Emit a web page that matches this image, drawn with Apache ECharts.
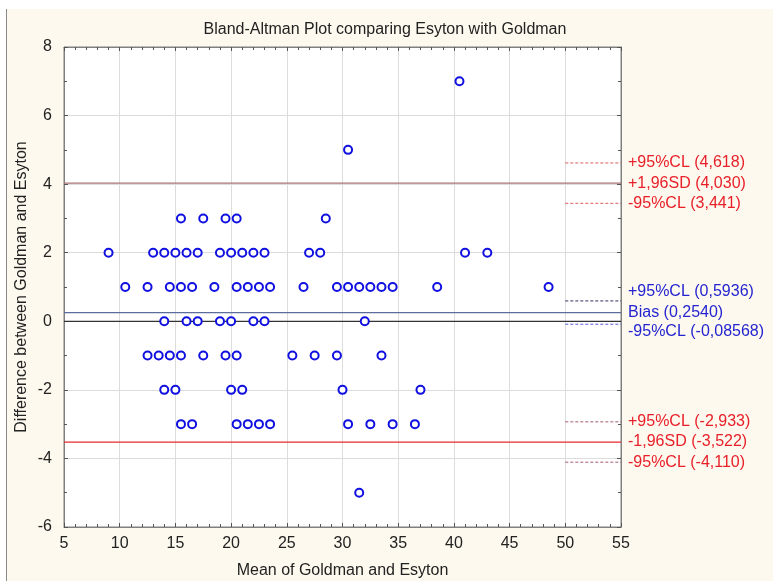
<!DOCTYPE html>
<html>
<head>
<meta charset="utf-8">
<script src="https://cdn.jsdelivr.net/npm/echarts@6/dist/echarts.min.js"></script>
<style>
  html, body { margin: 0; padding: 0; background: #fff; }
  #chart { width: 773px; height: 581px; }
</style>
</head>
<body>
<div id="chart"></div>
<script>
// differences (y) and the means (x) observed at each difference
var rowValues = [7, 5, 3, 2, 1, 0, -1, -2, -3, -5];
var rowMeans = [
    [40.5],
    [30.5],
    [15.5, 17.5, 19.5, 20.5, 28.5],
    [9, 13, 14, 15, 16, 17, 19, 20, 21, 22, 23, 27, 28, 41, 43],
    [10.5, 12.5, 14.5, 15.5, 16.5, 18.5, 20.5, 21.5, 22.5, 23.5, 26.5, 29.5, 30.5, 31.5, 32.5, 33.5, 34.5, 38.5, 48.5],
    [14, 16, 17, 19, 20, 22, 23, 32],
    [12.5, 13.5, 14.5, 15.5, 17.5, 19.5, 20.5, 25.5, 27.5, 29.5, 33.5],
    [14, 15, 20, 21, 30, 37],
    [15.5, 16.5, 20.5, 21.5, 22.5, 23.5, 30.5, 32.5, 34.5, 36.5],
    [31.5]
];

// limit lines: solid full-width lines and short dashed confidence limits
var solidNames = ['+1,96SD (4,030)', 'Bias (0,2540)', '-1,96SD (-3,522)', ''];
var solidValues = [4.030, 0.2540, -3.522, 0];
var solidColors = ['#a87474', '#5e6c9c', '#e82828', '#333333'];
var solidLabelColors = ['#e8202a', '#2424d0', '#e8202a', '#000'];
var solidLabelShift = [0, 0, 0, 0];

var clNames = ['+95%CL (4,618)', '-95%CL (3,441)', '+95%CL (0,5936)', '-95%CL (-0,08568)', '+95%CL (-2,933)', '-95%CL (-4,110)'];
var clValues = [4.618, 3.441, 0.5936, -0.08568, -2.933, -4.110];
var clColors = ['#e05a5a', '#e05a5a', '#303060', '#5a5ae0', '#a05a6a', '#a05a6a'];
var clLabelColors = ['#e8202a', '#e8202a', '#2424d0', '#2424d0', '#e8202a', '#e8202a'];
var clLabelShift = [0, 0, -9, 7, 0, 0];

var points = [];
rowValues.forEach(function (v, i) {
    rowMeans[i].forEach(function (m) { points.push([m, v]); });
});

var fontFam = 'Arial, Liberation Sans';

var series = [{
    type: 'scatter',
    data: points,
    symbol: 'circle',
    symbolSize: 8,
    itemStyle: { color: '#ffffff', borderColor: '#1010e0', borderWidth: 2, opacity: 1 },
    z: 5
}];

function limitSeries(name, v, x0, color, dashed, labelColor, shift) {
    return {
        type: 'line',
        data: [[x0, v], [55, v]],
        symbol: 'none',
        silent: true,
        lineStyle: { color: color, width: dashed ? 1 : 1.3, type: dashed ? [3, 2] : 'solid' },
        endLabel: {
            show: name !== '',
            formatter: name,
            color: labelColor,
            fontFamily: fontFam,
            fontSize: 16,
            distance: 7,
            offset: [0, shift]
        },
        z: 3
    };
}

solidValues.forEach(function (v, i) {
    series.push(limitSeries(solidNames[i], v, 5, solidColors[i], false, solidLabelColors[i], solidLabelShift[i]));
});
clValues.forEach(function (v, i) {
    series.push(limitSeries(clNames[i], v, 50, clColors[i], true, clLabelColors[i], clLabelShift[i]));
});

var chart = echarts.init(document.getElementById('chart'));

var xBase = {
    type: 'value', min: 5, max: 55, interval: 5,
    axisLine: { show: true, onZero: false, lineStyle: { color: '#808080' } },
    axisTick: { show: true, inside: true, length: 4, lineStyle: { color: '#555' } },
    minorTick: { show: true, splitNumber: 5, length: 3, lineStyle: { color: '#555' } }
};
var yBase = {
    type: 'value', min: -6, max: 8, interval: 2,
    axisLine: { show: true, onZero: false, lineStyle: { color: '#808080' } },
    axisTick: { show: true, inside: true, length: 4, lineStyle: { color: '#555' } },
    minorTick: { show: true, splitNumber: 2, length: 3, lineStyle: { color: '#555' } }
};

var option = {
    backgroundColor: '#ffffff',
    animation: false,
    graphic: [
        { type: 'rect', z: -10, shape: { x: 7, y: 9, width: 766, height: 572 }, style: { fill: '#fdf9ee' } },
        { type: 'line', z: -9, shape: { x1: 6.5, y1: 9, x2: 6.5, y2: 581 }, style: { stroke: '#8a8a8a', lineWidth: 1 } }
    ],
    title: {
        text: 'Bland-Altman Plot comparing Esyton with Goldman',
        left: 380, top: 17, textAlign: 'center',
        textStyle: { fontFamily: fontFam, fontSize: 16, fontWeight: 'normal', color: '#222' }
    },
    grid: {
        left: 64, top: 47, right: 152, bottom: 54,
        outerBoundsMode: 'none', containLabel: false,
        show: true, backgroundColor: '#ffffff', borderColor: '#808080', borderWidth: 1
    },
    xAxis: [
        Object.assign({}, xBase, {
            position: 'bottom',
            name: 'Mean of Goldman and Esyton',
            nameLocation: 'middle', nameGap: 36, nameMoveOverlap: false,
            nameTextStyle: { fontFamily: fontFam, fontSize: 16, color: '#222' },
            axisLabel: { fontFamily: fontFam, fontSize: 16, color: '#222', margin: 9 },
            splitLine: { show: true, lineStyle: { color: '#dcdcdc' } }
        }),
        Object.assign({}, xBase, {
            position: 'top',
            axisLabel: { show: false },
            splitLine: { show: false }
        })
    ],
    yAxis: [
        Object.assign({}, yBase, {
            position: 'left',
            name: 'Difference between Goldman and Esyton',
            nameLocation: 'middle', nameGap: 34, nameMoveOverlap: false,
            nameTextStyle: { fontFamily: fontFam, fontSize: 16, color: '#222' },
            axisLabel: { fontFamily: fontFam, fontSize: 16, color: '#222', margin: 12 },
            splitLine: { show: true, lineStyle: { color: '#dcdcdc' } }
        }),
        Object.assign({}, yBase, {
            position: 'right',
            axisLabel: { show: false },
            splitLine: { show: false }
        })
    ],
    series: series
};

chart.setOption(option);
</script>
</body>
</html>
